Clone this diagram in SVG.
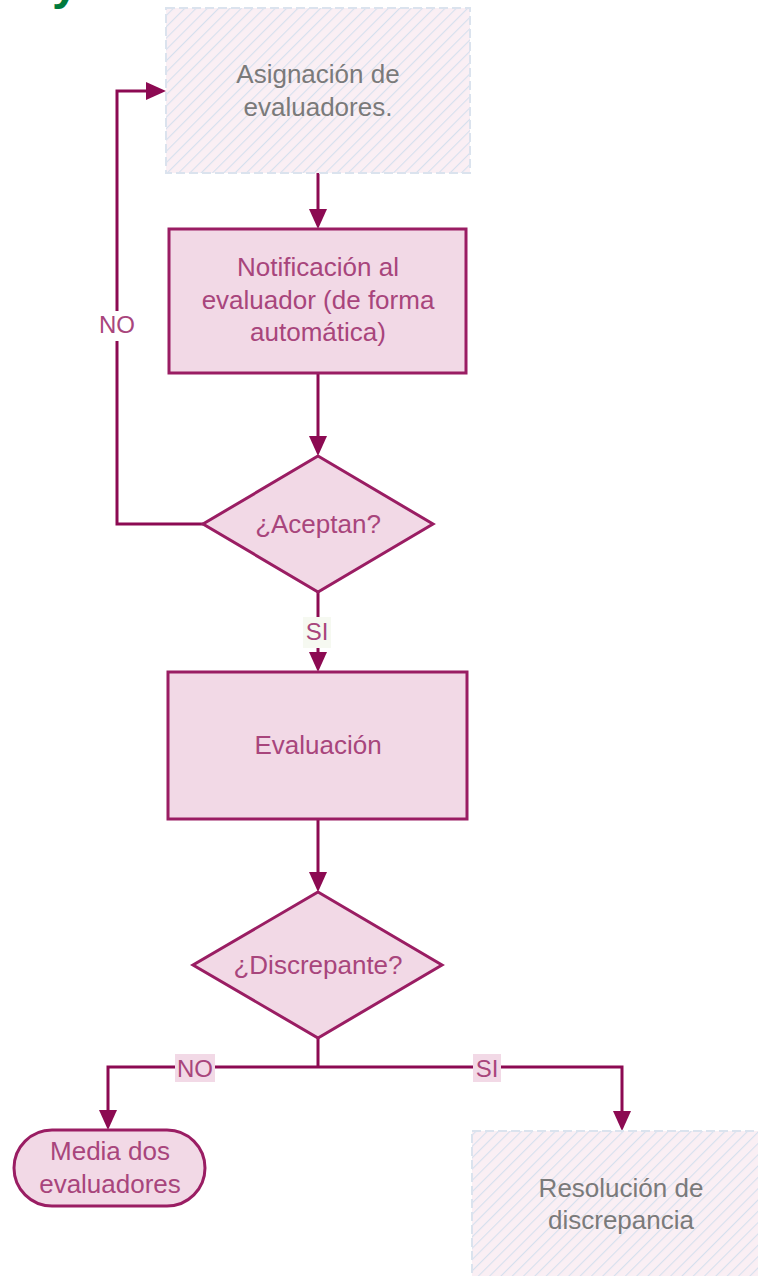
<svg xmlns="http://www.w3.org/2000/svg" width="758" height="1276" viewBox="0 0 758 1276">
<defs>
<pattern id="hatch" patternUnits="userSpaceOnUse" width="8" height="8" patternTransform="rotate(45)">
<rect width="8" height="8" fill="#faeff4"/>
<line x1="0" y1="0" x2="0" y2="8" stroke="#d6e0ee" stroke-width="2.2"/>
</pattern>
<marker id="arr" markerUnits="userSpaceOnUse" viewBox="0 0 20 18" markerWidth="20" markerHeight="18" refX="12" refY="9" orient="auto">
<path d="M0,0 L20,9 L0,18 Z" fill="#8c0a52"/>
</marker>
</defs>
<style>
.proc{fill:#f2d9e6;stroke:#9a1d63;stroke-width:3}
.hat{fill:url(#hatch);stroke:#dbe3ee;stroke-width:2;stroke-dasharray:9 4}
.t{font-family:"Liberation Sans",Arial,sans-serif;font-size:26px;text-anchor:middle;fill:#a8457c}
.tg{font-family:"Liberation Sans",Arial,sans-serif;font-size:26px;text-anchor:middle;fill:#7a7a7a}
.lbl{font-family:"Liberation Sans",Arial,sans-serif;font-size:24px;text-anchor:middle;fill:#a8457c}
.c{fill:none;stroke:#8c0a52;stroke-width:3;marker-end:url(#arr)}
.cn{fill:none;stroke:#8c0a52;stroke-width:3}
</style>
<text x="52" y="-1" font-family="Liberation Sans,Arial,sans-serif" font-size="48" font-weight="bold" fill="#007a3d">y</text>
<g id="connectors">
<path class="c" d="M318,173 V221"/>
<path class="c" d="M318,373 V448"/>
<path class="c" d="M203,524 H117 V91 H158"/>
<path class="c" d="M318,592 V664"/>
<path class="c" d="M318,819 V884"/>
<path class="cn" d="M318,1038 V1067"/>
<path class="c" d="M318,1067 H108 V1122"/>
<path class="c" d="M318,1067 H622 V1123"/>
<rect x="97" y="311" width="40" height="30" fill="#ffffff"/>
<text class="lbl" x="117" y="333">NO</text>
<rect x="303" y="617" width="28" height="31" fill="#f6f9f1"/>
<text class="lbl" x="317" y="640">SI</text>
<rect x="175" y="1054" width="40" height="28" fill="#f2d9e6"/>
<text class="lbl" x="195" y="1077">NO</text>
<rect x="473" y="1054" width="28" height="28" fill="#f2d9e6"/>
<text class="lbl" x="487" y="1077">SI</text>
</g>
<g id="asignacion">
<rect class="hat" x="166" y="8" width="304" height="165"/>
<text class="tg" x="318" y="83">Asignación de</text>
<text class="tg" x="318" y="116">evaluadores.</text>
</g>
<g id="notificacion">
<rect class="proc" x="169" y="229" width="297" height="144"/>
<text class="t" x="318" y="276">Notificación al</text>
<text class="t" x="318" y="309">evaluador (de forma</text>
<text class="t" x="318" y="341">automática)</text>
</g>
<g id="aceptan">
<polygon class="proc" points="318,456 433,524 318,592 203,524"/>
<text class="t" x="318" y="533">¿Aceptan?</text>
</g>
<g id="evaluacion">
<rect class="proc" x="168" y="672" width="299" height="147"/>
<text class="t" x="318" y="754">Evaluación</text>
</g>
<g id="discrepante">
<polygon class="proc" points="318,892 442,965 318,1038 193,965"/>
<text class="t" x="318" y="974">¿Discrepante?</text>
</g>
<g id="media">
<rect class="proc" x="14" y="1130" width="191" height="76" rx="38" ry="38"/>
<text class="t" x="110" y="1160">Media dos</text>
<text class="t" x="110" y="1193">evaluadores</text>
</g>
<g id="resolucion">
<rect class="hat" x="472" y="1131" width="330" height="170"/>
<text class="tg" x="621" y="1197">Resolución de</text>
<text class="tg" x="621" y="1229">discrepancia</text>
</g>
</svg>
